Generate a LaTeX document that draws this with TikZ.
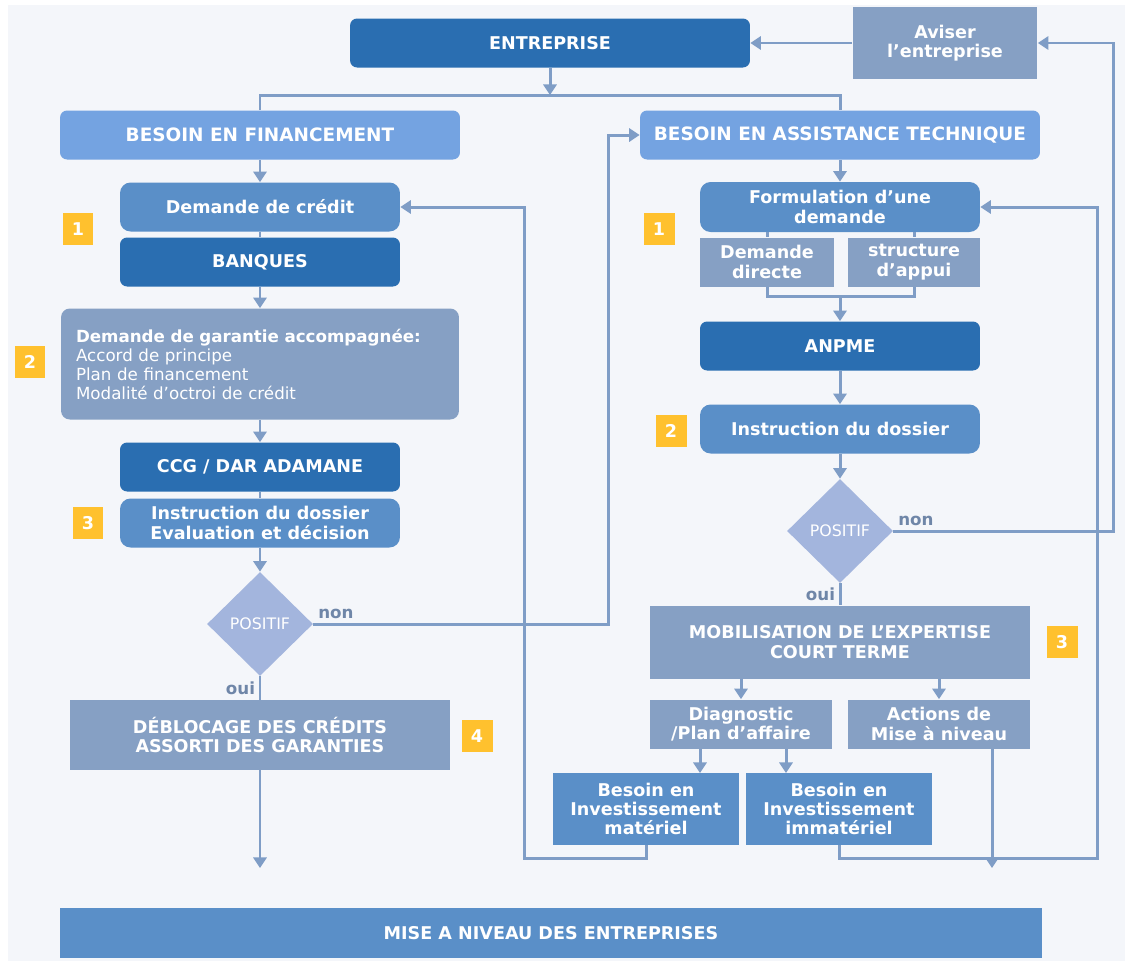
\documentclass[tikz,border=0pt]{standalone}
\usepackage{fontspec}
\setmainfont{DejaVu Sans}
\usetikzlibrary{shapes.geometric,arrows.meta}
\definecolor{fond}{HTML}{F4F6FA}
\definecolor{bleufonce}{HTML}{2A6EB1}
\definecolor{bleumoyen}{HTML}{5A8FC8}
\definecolor{bleuclair}{HTML}{74A3E1}
\definecolor{grisbleu}{HTML}{86A0C4}
\definecolor{losange}{HTML}{A3B5DD}
\definecolor{trait}{HTML}{7F9DC6}
\definecolor{jaune}{HTML}{FFC12E}
\definecolor{etiq}{HTML}{6F86A8}

\begin{document}
\begin{tikzpicture}[x=0.02cm,y=-0.02cm,
  boite/.style={text=white,font=\bfseries\fontsize{10}{11}\selectfont,align=center,inner sep=2pt},
  fonce/.style={boite,fill=bleufonce,rounded corners=4pt},
  moyen/.style={boite,fill=bleumoyen,rounded corners=6pt},
  clair/.style={boite,fill=bleuclair,rounded corners=4pt,font=\bfseries\fontsize{10.5}{11}\selectfont},
  gris/.style={boite,fill=grisbleu},
  bloc/.style={boite,fill=bleumoyen},
  large/.style={minimum width=8cm,minimum height=0.98cm},
  col/.style={minimum width=5.6cm,minimum height=0.98cm},
  demi/.style={minimum width=3.66cm,minimum height=0.98cm},
  invest/.style={minimum width=3.74cm,minimum height=1.44cm},
  carre/.style={boite,fill=jaune,minimum width=0.62cm,minimum height=0.64cm},
  losa/.style={diamond,fill=losange,text=white,font=\fontsize{9}{10}\selectfont,inner sep=0pt,minimum width=2.12cm,minimum height=2.08cm},
  fl/.style={draw=trait,line width=1.7pt},
  arr/.style={fl,-{Triangle[length=6pt,width=7.5pt]}},
  lbl/.style={text=etiq,font=\bfseries\fontsize{9.5}{10}\selectfont,inner sep=2pt}]
  \useasboundingbox (0,0) rectangle (1125,961);
  \fill[white] (0,0) rectangle (1125,961);
  \fill[fond] (8,5) rectangle (1125,961);

  \node[fonce,large] (entreprise) at (550,43) {ENTREPRISE};
  \node[gris,minimum width=3.7cm,minimum height=1.44cm] (aviser) at (945,43) {Aviser\\l’entreprise};

  \node[clair,large] (financement) at (260,135) {BESOIN EN FINANCEMENT};
  \node[moyen,col] (credit) at (260,207) {Demande de crédit};
  \node[fonce,col] (banques) at (260,262) {BANQUES};
  \node[gris,rounded corners=5pt,minimum width=7.96cm,minimum height=2.22cm,text width=7.36cm,align=left,font=\fontsize{9.5}{10.8}\selectfont] (garantie) at (260,364) {\textbf{Demande de garantie accompagnée:}\\Accord de principe\\Plan de financement\\Modalité d’octroi de crédit};
  \node[fonce,col] (ccg) at (260,467) {CCG / DAR ADAMANE};
  \node[moyen,col] (instrA) at (260,523) {Instruction du dossier\\Evaluation et décision};
  \node[losa] (posA) at (260,624) {POSITIF};
  \node[gris,minimum width=7.6cm,minimum height=1.4cm] (deblocage) at (260,735) {DÉBLOCAGE DES CRÉDITS\\ASSORTI DES GARANTIES};

  \node[clair,large] (assistance) at (840,135) {BESOIN EN ASSISTANCE TECHNIQUE};
  \node[moyen,col,minimum height=1cm] (formulation) at (840,207) {Formulation d’une\\demande};
  \node[gris,minimum width=2.68cm,minimum height=0.98cm] (directe) at (767,262) {Demande\\directe};
  \node[gris,minimum width=2.64cm,minimum height=0.98cm] (appui) at (914,262) {structure\\d’appui};
  \node[fonce,col] (anpme) at (840,346) {ANPME};
  \node[moyen,col] (instrB) at (840,429) {Instruction du dossier};
  \node[losa] (posB) at (840,531) {POSITIF};
  \node[gris,minimum width=7.6cm,minimum height=1.46cm] (mobilisation) at (840,642) {MOBILISATION DE L’EXPERTISE\\COURT TERME};
  \node[gris,demi] (diagnostic) at (741,724) {Diagnostic\\/Plan d’affaire};
  \node[gris,demi] (actions) at (939,724) {Actions de\\Mise à niveau};
  \node[bloc,invest] (materiel) at (646,809) {Besoin en\\Investissement\\matériel};
  \node[bloc,invest] (immateriel) at (839,809) {Besoin en\\Investissement\\immatériel};

  \node[bloc,minimum width=19.64cm,minimum height=1cm] (miseniveau) at (551,933) {MISE A NIVEAU DES ENTREPRISES};

  \node[carre] (unG) at (78,229) {1};
  \node[carre] (deuxG) at (30,362) {2};
  \node[carre] (troisG) at (88,523) {3};
  \node[carre] (quatreG) at (477,736) {4};
  \node[carre] (unD) at (659,229) {1};
  \node[carre] (deuxD) at (671,431) {2};
  \node[carre] (troisD) at (1062,642) {3};

  \coordinate (split) at (550,95);
  \coordinate (retourA) at (608,135);
  \coordinate (retourB) at (1113,531);
  \coordinate (jonction) at (840,296);
  \coordinate (versMat) at (700,773);
  \coordinate (versImm) at (786,773);
  \coordinate (boucleG) at (524,858);
  \coordinate (boucleD) at (1097,858);
  \coordinate (finG) at (260,868);
  \coordinate (finD) at (992,868);

  \draw[fl] (financement.north) |- (split) -| (assistance.north);
  \draw[arr] (entreprise) -- (split);
  \draw[arr] (aviser) -- (entreprise);

  \draw[arr] (financement) -- (credit);
  \draw[fl] (credit) -- (banques);
  \draw[arr] (banques) -- (garantie);
  \draw[arr] (garantie) -- (ccg);
  \draw[fl] (ccg) -- (instrA);
  \draw[arr] (instrA) -- (posA);
  \draw[fl] (posA) -- node[lbl,left] {oui} (deblocage);
  \draw[arr] (deblocage) -- (finG);
  \draw[arr] (posA.east) node[lbl,above right] {non} -| (retourA) |- (assistance.west);

  \draw[arr] (assistance) -- (formulation);
  \draw[fl] (formulation.south -| directe) -- (directe);
  \draw[fl] (formulation.south -| appui) -- (appui);
  \draw[fl] (directe.south) |- (jonction) -| (appui.south);
  \draw[arr] (jonction) -- (anpme);
  \draw[arr] (anpme) -- (instrB);
  \draw[arr] (instrB) -- (posB);
  \draw[fl] (posB) -- node[lbl,left] {oui} (mobilisation);
  \draw[arr] (posB.east) node[lbl,above right] {non} -- (retourB) |- (aviser.east);
  \draw[arr] (mobilisation.south -| diagnostic) -- (diagnostic);
  \draw[arr] (mobilisation.south -| actions) -- (actions);
  \draw[arr] (diagnostic.south -| versMat) -- (versMat);
  \draw[arr] (diagnostic.south -| versImm) -- (versImm);
  \draw[arr] (materiel.south) |- (boucleG) |- (credit.east);
  \draw[arr] (immateriel.south) |- (boucleD) |- (formulation.east);
  \draw[arr] (actions.south -| finD) -- (finD);
\end{tikzpicture}
\end{document}
